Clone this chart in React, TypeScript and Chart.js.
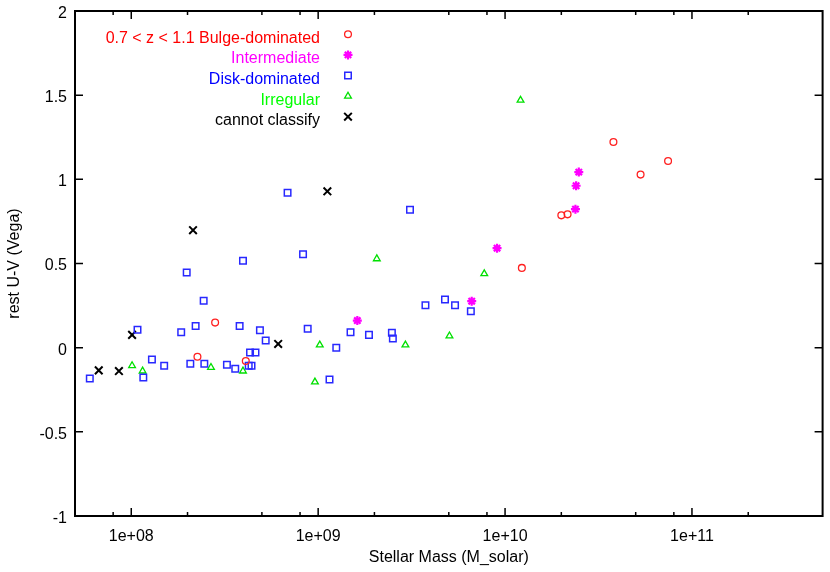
import React, { useEffect, useRef } from 'react';
import { Chart, registerables } from 'chart.js';

Chart.register(...registerables);

// ---- data ----
const seriesNames = [
  '0.7 < z < 1.1 Bulge-dominated',
  'Intermediate',
  'Disk-dominated',
  'Irregular',
  'cannot classify',
];

const bulgeMass = [2.26e8, 2.81e8, 4.1e8, 1.23e10, 2.0e10, 2.16e10, 3.8e10, 5.31e10, 7.45e10];
const bulgeUV = [-0.054, 0.149, -0.079, 0.474, 0.786, 0.792, 1.222, 1.028, 1.109];

const interMass = [1.62e9, 6.63e9, 9.06e9, 2.38e10, 2.4e10, 2.48e10];
const interUV = [0.161, 0.276, 0.591, 0.823, 0.962, 1.043];

const diskMass = [
  6.0e7, 1.08e8, 1.16e8, 1.29e8, 1.5e8, 1.85e8, 1.98e8, 2.07e8, 2.21e8, 2.44e8,
  2.46e8, 3.25e8, 3.6e8, 3.8e8, 3.96e8, 4.25e8, 4.4e8, 4.32e8, 4.62e8, 4.88e8,
  5.24e8, 6.86e8, 8.3e8, 8.79e8, 1.15e9, 1.25e9, 1.49e9, 1.87e9, 2.48e9, 2.51e9,
  3.1e9, 3.75e9, 4.77e9, 5.4e9, 6.56e9,
];
const diskUV = [
  -0.183, 0.107, -0.177, -0.07, -0.107, 0.091, 0.446, -0.095, 0.129, 0.278,
  -0.095, -0.101, -0.125, 0.129, 0.516, -0.107, -0.107, -0.028, -0.028, 0.103,
  0.042, 0.921, 0.555, 0.113, -0.189, 0.0, 0.091, 0.076, 0.088, 0.054,
  0.82, 0.252, 0.286, 0.252, 0.216,
];

const irrMass = [1.01e8, 1.15e8, 2.67e8, 3.96e8, 9.61e8, 1.02e9, 2.06e9, 2.93e9, 5.04e9, 7.74e9, 1.21e10];
const irrUV = [-0.107, -0.139, -0.117, -0.139, -0.204, 0.016, 0.528, 0.016, 0.07, 0.439, 1.47];

const unclMass = [6.7e7, 8.59e7, 1.01e8, 2.14e8, 6.11e8, 1.12e9];
const unclUV = [-0.135, -0.139, 0.076, 0.698, 0.022, 0.929];

const xMajorTicks = [1e8, 1e9, 1e10, 1e11];
const xMinorTicks = [8e7, 2e8, 5e8, 8e8, 2e9, 5e9, 8e9, 2e10, 5e10, 8e10, 2e11];
const yTicks = [-1, -0.5, 0, 0.5, 1, 1.5, 2];

const FONT = "'Liberation Sans', Arial, Helvetica, sans-serif";

function toPoints(xs: number[], ys: number[]) {
  return xs.map((x, i) => ({ x, y: ys[i] }));
}

function drawMarker(
  ctx: CanvasRenderingContext2D,
  style: string,
  r: number,
  lw: number,
  color: string,
  x: number,
  y: number
) {
  ctx.save();
  ctx.strokeStyle = color;
  ctx.lineWidth = lw;
  ctx.beginPath();
  if (style === 'circle') {
    ctx.arc(x, y, r, 0, Math.PI * 2);
  } else if (style === 'rect') {
    const s = Math.SQRT1_2 * r;
    ctx.rect(x - s, y - s, 2 * s, 2 * s);
  } else if (style === 'triangle') {
    for (let k = 0; k < 3; k++) {
      const a = (k * 2 * Math.PI) / 3;
      const px = x + Math.sin(a) * r;
      const py = y - Math.cos(a) * r;
      if (k === 0) ctx.moveTo(px, py);
      else ctx.lineTo(px, py);
    }
    ctx.closePath();
  } else if (style === 'star') {
    for (let k = 0; k < 4; k++) {
      const a = (k * Math.PI) / 4;
      ctx.moveTo(x - Math.cos(a) * r, y - Math.sin(a) * r);
      ctx.lineTo(x + Math.cos(a) * r, y + Math.sin(a) * r);
    }
  } else if (style === 'crossRot') {
    for (let k = 0; k < 2; k++) {
      const a = Math.PI / 4 + (k * Math.PI) / 2;
      ctx.moveTo(x - Math.cos(a) * r, y - Math.sin(a) * r);
      ctx.lineTo(x + Math.cos(a) * r, y + Math.sin(a) * r);
    }
  }
  ctx.stroke();
  ctx.restore();
}

const framePlugin = {
  id: 'gpFrame',
  afterDraw(chart: any) {
    const { ctx, chartArea } = chart;
    const { left, right, top, bottom } = chartArea;
    const xs = chart.scales.x;
    const ys = chart.scales.y;
    ctx.save();
    ctx.strokeStyle = '#000';
    ctx.lineWidth = 1.5;
    ctx.beginPath();
    xMajorTicks.forEach((v) => {
      const px = xs.getPixelForValue(v);
      ctx.moveTo(px, bottom);
      ctx.lineTo(px, bottom - 8);
      ctx.moveTo(px, top);
      ctx.lineTo(px, top + 8);
    });
    xMinorTicks.forEach((v) => {
      const px = xs.getPixelForValue(v);
      ctx.moveTo(px, bottom);
      ctx.lineTo(px, bottom - 4);
      ctx.moveTo(px, top);
      ctx.lineTo(px, top + 4);
    });
    yTicks.forEach((v) => {
      const py = ys.getPixelForValue(v);
      ctx.moveTo(left, py);
      ctx.lineTo(left + 8, py);
      ctx.moveTo(right, py);
      ctx.lineTo(right - 8, py);
    });
    ctx.stroke();
    ctx.lineWidth = 2;
    ctx.strokeRect(left, top, right - left, bottom - top);
    ctx.restore();
  },
};

const legendPlugin = {
  id: 'gpLegend',
  afterDraw(chart: any) {
    const ctx = chart.ctx as CanvasRenderingContext2D;
    ctx.save();
    ctx.font = `16px ${FONT}`;
    ctx.textAlign = 'right';
    ctx.textBaseline = 'alphabetic';
    chart.data.datasets.forEach((ds: any, i: number) => {
      const baseY = 42.7 + i * 20.6;
      ctx.fillStyle = ds.labelColor;
      ctx.fillText(ds.label, 320, baseY);
      drawMarker(ctx, ds.pointStyle, ds.pointRadius, ds.pointBorderWidth, ds.borderColor, 348, baseY - 8.4);
    });
    ctx.restore();
  },
};

export default function App() {
  const ref = useRef<HTMLCanvasElement | null>(null);

  useEffect(() => {
    document.body.style.margin = '0';
    if (!ref.current) return;
    Chart.defaults.font.family = FONT;
    Chart.defaults.font.size = 16;
    Chart.defaults.color = '#000';

    const chart = new Chart(ref.current, {
      type: 'scatter',
      data: {
        datasets: [
          {
            label: seriesNames[0],
            data: toPoints(bulgeMass, bulgeUV),
            pointStyle: 'circle',
            pointRadius: 3.4,
            pointBorderWidth: 1.3,
            borderColor: '#ff2020',
            labelColor: '#ff0000',
            backgroundColor: 'rgba(0,0,0,0)',
          } as any,
          {
            label: seriesNames[1],
            data: toPoints(interMass, interUV),
            pointStyle: 'star',
            pointRadius: 4.5,
            pointBorderWidth: 2.2,
            borderColor: '#ff00ff',
            labelColor: '#ff00ff',
            backgroundColor: 'rgba(0,0,0,0)',
          } as any,
          {
            label: seriesNames[2],
            data: toPoints(diskMass, diskUV),
            pointStyle: 'rect',
            pointRadius: 4.6,
            pointBorderWidth: 1.5,
            borderColor: '#2828ff',
            labelColor: '#0000ff',
            backgroundColor: 'rgba(0,0,0,0)',
          } as any,
          {
            label: seriesNames[3],
            data: toPoints(irrMass, irrUV),
            pointStyle: 'triangle',
            pointRadius: 3.9,
            pointBorderWidth: 1.3,
            borderColor: '#00e000',
            labelColor: '#00ff00',
            backgroundColor: 'rgba(0,0,0,0)',
          } as any,
          {
            label: seriesNames[4],
            data: toPoints(unclMass, unclUV),
            pointStyle: 'crossRot',
            pointRadius: 5.4,
            pointBorderWidth: 2,
            borderColor: '#000000',
            labelColor: '#000000',
            backgroundColor: 'rgba(0,0,0,0)',
          } as any,
        ],
      },
      options: {
        animation: false,
        responsive: false,
        events: [],
        layout: { padding: { top: 11, right: 2, left: 0, bottom: 0 } },
        plugins: {
          legend: { display: false },
          tooltip: { enabled: false },
        },
        scales: {
          x: {
            type: 'logarithmic',
            min: 5e7,
            max: 5e11,
            grid: { display: false, drawTicks: false },
            border: { display: false },
            ticks: {
              padding: 11,
              maxRotation: 0,
              autoSkip: false,
              color: '#000',
              font: { size: 16, family: FONT },
              callback: (v: any) => '1e+' + String(Math.round(Math.log10(Number(v)))).padStart(2, '0'),
            },
            afterBuildTicks: (s: any) => {
              s.ticks = xMajorTicks.map((value) => ({ value }));
            },
            afterFit: (s: any) => {
              s.height = 56;
              s.paddingLeft = 0;
              s.paddingRight = 0;
            },
            title: {
              display: true,
              text: 'Stellar Mass (M_solar)',
              color: '#000',
              font: { size: 16, family: FONT },
              padding: { top: 0, bottom: 5 },
            },
          },
          y: {
            type: 'linear',
            min: -1,
            max: 2,
            grid: { display: false, drawTicks: false },
            border: { display: false },
            ticks: {
              padding: 8,
              labelOffset: 2.5,
              color: '#000',
              font: { size: 16, family: FONT },
              callback: (v: any) => String(v),
            },
            afterBuildTicks: (s: any) => {
              s.ticks = yTicks.map((value) => ({ value }));
            },
            afterFit: (s: any) => {
              s.width = 75;
              s.paddingTop = 0;
              s.paddingBottom = 0;
            },
            title: {
              display: true,
              text: 'rest U-V (Vega)',
              color: '#000',
              font: { size: 16, family: FONT },
              padding: { top: 5, bottom: 0 },
            },
          },
        },
      } as any,
      plugins: [framePlugin, legendPlugin],
    });

    return () => chart.destroy();
  }, []);

  return (
    <div style={{ width: 830, height: 572 }}>
      <canvas ref={ref} width={830} height={572} style={{ display: 'block' }} />
    </div>
  );
}
